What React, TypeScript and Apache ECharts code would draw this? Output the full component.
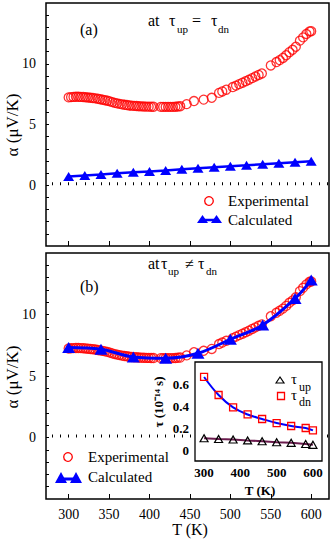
import React, { useEffect, useRef } from 'react';
import * as echarts from 'echarts';

// ---------- data ----------
const expT = [300, 303, 306, 309, 312, 315, 318, 321, 324, 327, 330, 333, 336, 339, 342, 345, 348, 351, 354, 357, 360, 363, 366, 369, 372, 375, 378, 381, 384, 387, 390, 393, 396, 399, 402, 405, 414, 417, 420, 423, 426, 429, 432, 435, 438, 446, 455, 467, 477, 486, 490, 495, 503, 507, 511, 515, 519, 523, 527, 531, 535, 539, 550, 557, 561, 565, 569, 573, 577, 581, 586, 590, 594, 598, 600];
const expAlpha = [7.23, 7.25, 7.27, 7.28, 7.28, 7.27, 7.26, 7.24, 7.22, 7.2, 7.18, 7.15, 7.12, 7.08, 7.04, 7.0, 6.96, 6.9, 6.84, 6.78, 6.74, 6.7, 6.66, 6.62, 6.6, 6.57, 6.55, 6.53, 6.52, 6.5, 6.49, 6.48, 6.47, 6.47, 6.46, 6.46, 6.45, 6.45, 6.45, 6.45, 6.45, 6.45, 6.46, 6.48, 6.5, 6.68, 6.93, 7.05, 7.2, 7.6, 7.72, 7.86, 8.08, 8.2, 8.32, 8.44, 8.56, 8.68, 8.82, 8.95, 9.08, 9.2, 9.86, 10.14, 10.3, 10.48, 10.7, 10.95, 11.15, 11.4, 11.9, 12.17, 12.45, 12.66, 12.68];

const calcTA = [300, 320, 340, 360, 380, 400, 420, 440, 460, 480, 500, 520, 540, 560, 580, 600];
const calcAlphaA = [0.72, 0.8, 0.88, 0.98, 1.06, 1.14, 1.22, 1.31, 1.4, 1.48, 1.56, 1.64, 1.73, 1.82, 1.9, 1.98];

const calcTB = [300, 340, 380, 420, 460, 500, 540, 580, 600];
const calcAlphaB = [7.31, 7.18, 6.55, 6.45, 6.85, 7.98, 9.14, 11.3, 12.8];

const insetT = [300, 340, 380, 420, 460, 500, 540, 580, 600];
const tauDn = [0.664, 0.5, 0.387, 0.323, 0.282, 0.245, 0.218, 0.2, 0.178];
const tauUp = [0.107, 0.1, 0.095, 0.087, 0.08, 0.07, 0.065, 0.055, 0.047];

const xTickLabels = [300, 350, 400, 450, 500, 550, 600];
const xMinorTicks = [280, 290, 300, 310, 320, 330, 340, 350, 360, 370, 380, 390, 400, 410, 420, 430, 440, 450, 460, 470, 480, 490, 500, 510, 520, 530, 540, 550, 560, 570, 580, 590, 600, 610, 620];
const yTickLabels = [0, 5, 10];
const yMinorTicks = [-4, -3, -2, -1, 0, 1, 2, 3, 4, 5, 6, 7, 8, 9, 10, 11, 12, 13, 14];
const insetXLabels = [300, 400, 500, 600];
const insetXTicks = [300, 350, 400, 450, 500, 550, 600];
const insetYLabels = [0, 0.2, 0.4, 0.6];
const insetYTicks = [0, 0.1, 0.2, 0.3, 0.4, 0.5, 0.6, 0.7];

// ---------- styles ----------
const SERIF = 'Liberation Serif';
const RED = '#ff0000';
const BLUE = '#0000ff';
const MAROON = '#6a1b4d';

const zip = (xs: number[], ys: number[]) => xs.map((x, i) => [x, ys[i]]);

function mainX(gridIndex: number, withLabels: boolean) {
  return [
    {
      type: 'value', gridIndex, min: 272, max: 622, position: 'bottom',
      axisLine: { show: false }, splitLine: { show: false },
      axisTick: { show: true, inside: true, length: 3, customValues: xMinorTicks, lineStyle: { color: '#000', width: 1 } },
      axisLabel: withLabels
        ? { show: true, customValues: xTickLabels, margin: 8, color: '#000', fontFamily: SERIF, fontSize: 14 }
        : { show: false },
    },
    {
      type: 'value', gridIndex, min: 272, max: 622, position: 'bottom',
      axisLine: { show: false }, splitLine: { show: false },
      axisTick: { show: true, inside: true, length: 5, customValues: xTickLabels, lineStyle: { color: '#000', width: 1 } },
      axisLabel: { show: false },
    },
  ];
}

function mainY(gridIndex: number) {
  return {
    type: 'value', gridIndex, min: -5, max: 15,
    axisLine: { show: false }, splitLine: { show: false },
    axisTick: { show: true, inside: true, length: 3, customValues: yMinorTicks, lineStyle: { color: '#000', width: 1 } },
    axisLabel: { show: true, customValues: yTickLabels, margin: 10, color: '#000', fontFamily: SERIF, fontSize: 14 },
  };
}

const txt = (text: string, x: number, y: number, size: number, extra: any = {}) => ({
  type: 'text', x, y, z: 50, rotation: extra.rotation || 0,
  style: {
    text, fill: '#000',
    fontFamily: SERIF, fontSize: size, fontWeight: extra.bold ? 'bold' : 'normal',
    textAlign: extra.align || 'left', align: extra.align || 'left',
    textVerticalAlign: 'middle', verticalAlign: 'middle',
  },
});

function buildOption() {
  return {
    animation: false,
    backgroundColor: '#fff',
    textStyle: { fontFamily: SERIF },
    grid: [
      { left: 46, top: 3, width: 283, height: 243, show: true, borderColor: '#000', borderWidth: 1.5, backgroundColor: 'transparent' },
      { left: 46, top: 253, width: 283, height: 246, show: true, borderColor: '#000', borderWidth: 1.5, backgroundColor: 'transparent' },
      { left: 195, top: 362, width: 127, height: 99, show: true, borderColor: '#000', borderWidth: 1.3, backgroundColor: '#fff', z: 5 },
    ],
    xAxis: [
      ...mainX(0, false),
      ...mainX(1, true),
      {
        type: 'value', gridIndex: 2, min: 275, max: 625, position: 'bottom',
        axisLine: { show: false }, splitLine: { show: false },
        axisTick: { show: true, inside: true, length: 3, customValues: insetXTicks, lineStyle: { color: '#000' } },
        axisLabel: { show: true, customValues: insetXLabels, margin: 5, color: '#000', fontFamily: SERIF, fontSize: 13, fontWeight: 'bold' },
      },
    ],
    yAxis: [
      mainY(0),
      mainY(1),
      {
        type: 'value', gridIndex: 2, min: -0.1, max: 0.8,
        axisLine: { show: false }, splitLine: { show: false },
        axisTick: { show: true, inside: true, length: 3, customValues: insetYTicks, lineStyle: { color: '#000' } },
        axisLabel: {
          show: true, customValues: insetYLabels, margin: 6, color: '#000', fontFamily: SERIF, fontSize: 13, fontWeight: 'bold',
          formatter: (v: number) => (Math.abs(v) < 1e-9 ? '0' : v.toFixed(1)),
        },
      },
    ],
    series: [
      {
        type: 'line', name: 'Calculated', xAxisIndex: 0, yAxisIndex: 0, data: zip(calcTA, calcAlphaA),
        symbol: 'triangle', symbolSize: [11, 9], z: 3,
        lineStyle: { color: BLUE, width: 2.5 }, itemStyle: { color: BLUE },
      },
      {
        type: 'scatter', name: 'Experimental', xAxisIndex: 0, yAxisIndex: 0, data: zip(expT, expAlpha),
        symbol: 'circle', symbolSize: 9, z: 2,
        itemStyle: { color: 'rgba(0,0,0,0)', borderColor: RED, borderWidth: 1.3 },
      },
      {
        type: 'scatter', name: 'Experimental', xAxisIndex: 2, yAxisIndex: 1, data: zip(expT, expAlpha),
        symbol: 'circle', symbolSize: 9, z: 2,
        itemStyle: { color: 'rgba(0,0,0,0)', borderColor: RED, borderWidth: 1.3 },
      },
      {
        type: 'line', name: 'Calculated', xAxisIndex: 2, yAxisIndex: 1, data: zip(calcTB, calcAlphaB),
        smooth: 0.35, symbol: 'triangle', symbolSize: [13, 11], z: 3,
        lineStyle: { color: BLUE, width: 3 }, itemStyle: { color: BLUE },
      },
      {
        type: 'line', name: 'tau_dn', xAxisIndex: 4, yAxisIndex: 2, data: zip(insetT, tauDn),
        smooth: 0.4, symbol: 'rect', symbolSize: 7, z: 10,
        lineStyle: { color: BLUE, width: 2 },
        itemStyle: { color: 'rgba(0,0,0,0)', borderColor: RED, borderWidth: 1.3 },
      },
      {
        type: 'line', name: 'tau_up', xAxisIndex: 4, yAxisIndex: 2, data: zip(insetT, tauUp),
        symbol: 'triangle', symbolSize: [8, 7], z: 10,
        lineStyle: { color: MAROON, width: 2 },
        itemStyle: { color: 'rgba(0,0,0,0)', borderColor: '#000', borderWidth: 1.2 },
      },
    ],
    graphic: [
      // panel (a) annotations
      txt('(a)', 80, 29, 16),
      txt('at', 148, 20, 16),
      txt('τ', 169, 20, 16),
      txt('up', 177, 29, 11),
      txt('=', 192, 20, 16),
      txt('τ', 211, 20, 16),
      txt('dn', 218, 29, 11),
      // panel (b) annotations
      txt('(b)', 80, 286, 16),
      txt('at', 148, 263, 16),
      txt('τ', 161, 263, 16),
      txt('up', 168, 271, 11),
      txt('≠', 185, 263, 16),
      txt('τ', 198, 263, 16),
      txt('dn', 206, 271, 11),
      // axis titles
      txt('α (μV/K)', 12, 125, 17, { rotation: Math.PI / 2, align: 'center' }),
      txt('α (μV/K)', 12, 377, 17, { rotation: Math.PI / 2, align: 'center' }),
      txt('T (K)', 190, 529, 16, { align: 'center' }),
      txt('τ (10⁻¹⁴ s)', 158, 402, 13, { rotation: Math.PI / 2, align: 'center', bold: true }),
      txt('T (K)', 260, 490, 13, { align: 'center', bold: true }),
      // legend (a)
      { type: 'circle', z: 50, shape: { cx: 209, cy: 201, r: 4.3 }, style: { fill: 'none', stroke: RED, lineWidth: 1.3 } },
      txt('Experimental', 228, 201, 15),
      { type: 'line', z: 50, shape: { x1: 202, y1: 220, x2: 216, y2: 220 }, style: { stroke: BLUE, lineWidth: 2.5 } },
      { type: 'polygon', z: 51, shape: { points: [[197, 223], [202.5, 215], [208, 223]] }, style: { fill: BLUE } },
      { type: 'polygon', z: 51, shape: { points: [[211, 223], [216.5, 215], [222, 223]] }, style: { fill: BLUE } },
      txt('Calculated', 228, 220, 15),
      // legend (b)
      { type: 'circle', z: 50, shape: { cx: 68, cy: 457, r: 4.3 }, style: { fill: 'none', stroke: RED, lineWidth: 1.3 } },
      txt('Experimental', 88, 457, 15),
      { type: 'line', z: 50, shape: { x1: 61, y1: 479, x2: 76, y2: 479 }, style: { stroke: BLUE, lineWidth: 3 } },
      { type: 'polygon', z: 51, shape: { points: [[55, 483], [61, 472], [67, 483]] }, style: { fill: BLUE } },
      { type: 'polygon', z: 51, shape: { points: [[70, 483], [76, 472], [82, 483]] }, style: { fill: BLUE } },
      txt('Calculated', 88, 477, 15),
      // inset legend
      { type: 'polygon', z: 50, shape: { points: [[276, 383], [280, 377], [284, 383]] }, style: { fill: 'none', stroke: '#000', lineWidth: 1.2 } },
      txt('τ', 291, 379, 15),
      txt('up', 299, 387, 12),
      { type: 'rect', z: 50, shape: { x: 277.5, y: 392.5, width: 7, height: 7 }, style: { fill: 'none', stroke: RED, lineWidth: 1.3 } },
      txt('τ', 291, 395, 15),
      txt('dn', 299, 402, 12),
    ],
  };
}

export default function App() {
  const ref = useRef<HTMLDivElement>(null);
  useEffect(() => {
    document.body.style.margin = '0';
    const chart = echarts.init(ref.current as HTMLDivElement, null, { renderer: 'svg' });
    chart.setOption(buildOption() as any);
    return () => chart.dispose();
  }, []);
  return <div ref={ref} style={{ width: 332, height: 542 }} />;
}
